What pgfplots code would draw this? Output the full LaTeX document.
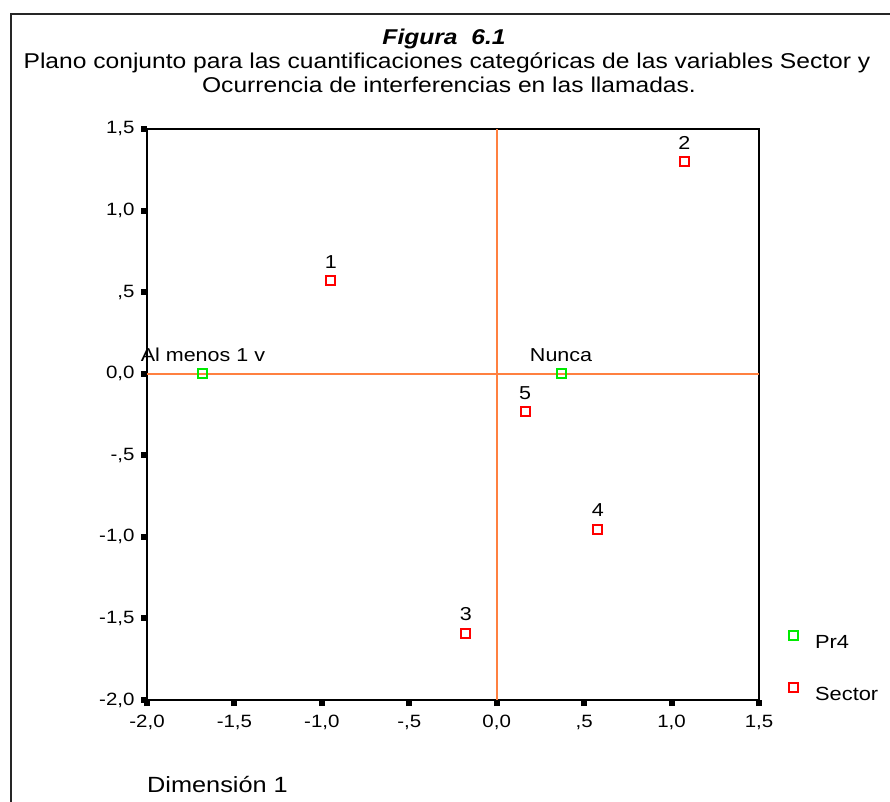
\documentclass[border=0pt]{standalone}
\usepackage{pgfplots}
\pgfplotsset{compat=1.18}
\usepackage{fontspec}
\setmainfont{Liberation Sans}[FakeStretch=1.15]
\definecolor{refor}{RGB}{255,128,64}
\definecolor{mgreen}{RGB}{0,235,0}
\definecolor{mred}{RGB}{255,0,0}
\pgfplotsset{mylegimg/.style={legend image code/.code={%
  \path (0pt,-2pt) (23.5pt,2pt);
  \draw[##1] plot coordinates {(4.5pt,7pt)};}}}
\begin{document}
\begin{tikzpicture}[x=1pt,y=1pt]
\useasboundingbox (0,0) rectangle (890,801);
\coordinate (AX) at (147,101);
\draw[line width=2pt, black!85] (11,-5) -- (11,787) -- (895,787);
\node[anchor=base, inner sep=0pt, font=\fontsize{21.4}{24}\selectfont\bfseries\itshape] at (444,756) {Figura\ \ 6.1};
\node[anchor=base, inner sep=0pt, font=\fontsize{21.4}{24}\selectfont] at (447,732) {Plano conjunto para las cuantificaciones categóricas de las variables Sector y};
\node[anchor=base, inner sep=0pt, font=\fontsize{21.4}{24}\selectfont] at (449,708) {Ocurrencia de interferencias en las llamadas.};
\node[anchor=base west, inner sep=0pt, font=\fontsize{22}{24}\selectfont] at (147,9) {Dimensión 1};
\begin{axis}[
  at={(AX)}, anchor=south west, scale only axis,
  width=612pt, height=571pt,
  xmin=-2, xmax=1.5, ymin=-2, ymax=1.5,
  axis line style={line width=2pt, black},
  xtick={-2,-1.5,-1,-0.5,0,0.5,1,1.5},
  xticklabels={{-2,0},{-1,5},{-1,0},{-,5},{0,0},{,5},{1,0},{1,5}},
  ytick={-2,-1.5,-1,-0.5,0,0.5,1,1.5},
  yticklabels={{-2,0},{-1,5},{-1,0},{-,5},{0,0},{,5},{1,0},{1,5}},
  xtick pos=lower, ytick pos=left,
  tick align=outside, major tick length=6pt,
  tick style={line width=6pt, black},
  ticklabel style={font=\fontsize{17.8}{20}\selectfont},
  xticklabel style={yshift=-6pt},
  yticklabel style={xshift=-3pt},
  clip=false,
  legend style={at={(rel axis cs:1,0)}, anchor=south west, xshift=27pt, yshift=-6pt,
    draw=none, fill=none, font=\fontsize{19}{21}\selectfont,
    row sep=31pt},
  legend cell align=left,
]
\addplot[refor, line width=2pt, forget plot] coordinates {(0,-2) (0,1.5)};
\addplot[refor, line width=2pt, forget plot] coordinates {(-2,0) (1.5,0)};
\addplot[only marks, mylegimg, mark=square, mark size=4.5pt, color=mgreen, mark options={line width=2pt},
  nodes near coords, point meta=explicit symbolic,
  every node near coord/.style={anchor=base, yshift=12.5pt, inner sep=0pt, text=black, font=\fontsize{18.7}{20}\selectfont}]
  coordinates {(-1.68,0) [Al menos 1 v] (0.368,0) [Nunca]};
\addlegendentry{Pr4}
\addplot[only marks, mylegimg, mark=square, mark size=4.5pt, color=mred, mark options={line width=2pt},
  nodes near coords, point meta=explicit symbolic,
  every node near coord/.style={anchor=base, yshift=12.5pt, inner sep=0pt, text=black, font=\fontsize{18.7}{20}\selectfont}]
  coordinates {(-0.948,0.570) [1] (1.073,1.300) [2] (-0.176,-1.591) [3] (0.579,-0.952) [4] (0.162,-0.233) [5]};
\addlegendentry{Sector}
\end{axis}
\end{tikzpicture}
\end{document}
